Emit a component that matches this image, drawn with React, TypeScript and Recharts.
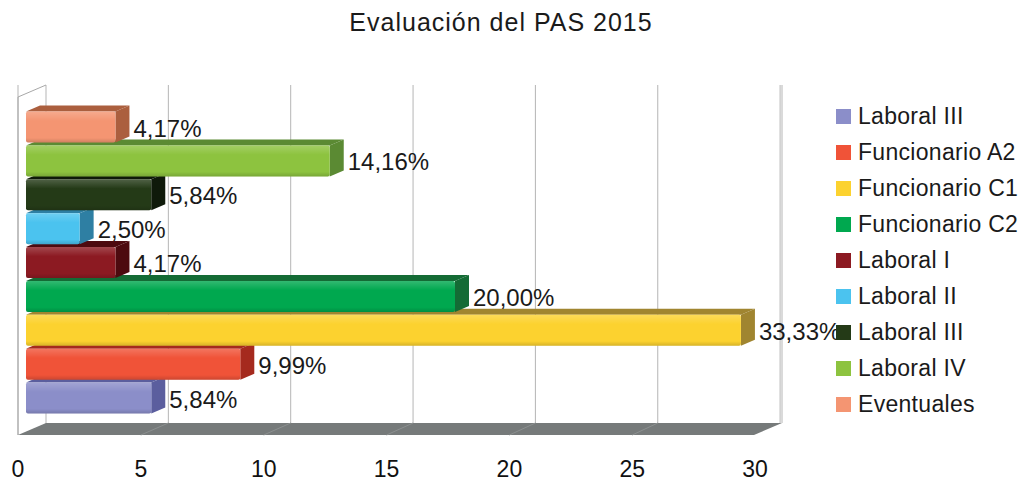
import React from 'react';
import {
  BarChart,
  Bar,
  XAxis,
  YAxis,
  CartesianGrid,
  Legend,
  LabelList,
  Customized
} from 'recharts';

const categories = [
  'Laboral III',
  'Funcionario A2',
  'Funcionario C1',
  'Funcionario C2',
  'Laboral I',
  'Laboral II',
  'Laboral III',
  'Laboral IV',
  'Eventuales'
];
const percentages = [5.84, 9.99, 33.33, 20.0, 4.17, 2.5, 5.84, 14.16, 4.17];
const frontColors = ['#8b8ec9', '#f05338', '#fcd22f', '#00a84f', '#8c1a22', '#4bc3ef', '#243a17', '#8dc33f', '#f49572'];
const sideColors = ['#5b5e9e', '#a52a1e', '#a08530', '#146b35', '#4d0a0f', '#2e7fa3', '#0f1a0a', '#5b8a33', '#ab5f3e'];
const xTicks = [0, 5, 10, 15, 20, 25, 30];

const FONT = '"Liberation Sans", Arial, sans-serif';
const WIDTH = 1029;
const HEIGHT = 482;
const AXIS_H = 47;
const MARGIN = { top: 85, right: 247, bottom: 0, left: 18 };
const PLOT_W = WIDTH - MARGIN.left - MARGIN.right;
const PLOT_BOTTOM = HEIGHT - AXIS_H;
const DEPTH_X = 28; // depth of the 3d box
const DEPTH_Y = 12;
const BAR_DX = 14; // depth of each bar
const BAR_DY = 6;

// three x scales fake the perspective: front labels, back wall grid, bars in between
const TICK_DOMAIN = [0, PLOT_W / 24.57];
const GRID_DOMAIN = [-DEPTH_X / 24.47, (PLOT_W - DEPTH_X) / 24.47];
const BAR_DOMAIN = [-8 / 21.45, (PLOT_W - 8) / 21.45];

const data = categories.map((name, i) => ({ key: `c${i}`, name, value: percentages[i] }));

const lin = (d: number[], v: number) => MARGIN.left + ((v - d[0]) / (d[1] - d[0])) * PLOT_W;

const fmt = (v: number) => v.toFixed(2).replace('.', ',') + '%';

const Frame = () => {
  const back = PLOT_BOTTOM - DEPTH_Y;
  const left = MARGIN.left;
  const right = MARGIN.left + PLOT_W;
  return (
    <g>
      <defs>
        <linearGradient id="barShade" x1="0" y1="0" x2="0" y2="1">
          <stop offset="0%" stopColor="#fff" stopOpacity={0.2} />
          <stop offset="30%" stopColor="#fff" stopOpacity={0} />
          <stop offset="85%" stopColor="#000" stopOpacity={0} />
          <stop offset="100%" stopColor="#000" stopOpacity={0.15} />
        </linearGradient>
      </defs>
      <text x={501} y={31} textAnchor="middle" fontSize={25} letterSpacing={1} fill="#1a1a1a" fontFamily={FONT}>
        Evaluación del PAS 2015
      </text>
      <polyline
        points={`${left},${PLOT_BOTTOM} ${left},${MARGIN.top + DEPTH_Y} ${left + DEPTH_X},${MARGIN.top}`}
        fill="none"
        stroke="#a8a8a8"
      />
      {/* hide the grid below the back edge of the floor */}
      <polygon
        points={`${right - 4},${back} ${right + 4},${back} ${right + 4},${PLOT_BOTTOM + 1} ${right - DEPTH_X},${PLOT_BOTTOM + 1}`}
        fill="#fff"
      />
      <polygon
        points={`${left},${PLOT_BOTTOM} ${left + DEPTH_X},${back} ${right},${back} ${right - DEPTH_X},${PLOT_BOTTOM}`}
        fill="#767a7a"
      />
      {xTicks.slice(1, -1).map((v) => (
        <line key={v} x1={lin(GRID_DOMAIN, v)} y1={back} x2={lin(TICK_DOMAIN, v)} y2={PLOT_BOTTOM} stroke="#8c9090" />
      ))}
    </g>
  );
};

const Bar3D = (props: any) => {
  const { x, y, width, height, index } = props;
  const r = x + width;
  const side = sideColors[index];
  return (
    <g>
      <polygon points={`${x},${y} ${x + BAR_DX},${y - BAR_DY} ${r + BAR_DX},${y - BAR_DY} ${r},${y}`} fill={side} />
      <polygon
        points={`${r},${y} ${r + BAR_DX},${y - BAR_DY} ${r + BAR_DX},${y + height - BAR_DY} ${r},${y + height}`}
        fill={side}
      />
      <rect x={x} y={y} width={width} height={height} rx={2} fill={frontColors[index]} />
      <rect x={x} y={y} width={width} height={height} rx={2} fill="url(#barShade)" />
    </g>
  );
};

const ValueLabel = (props: any) => {
  const vb = props.viewBox || props;
  const x = props.x ?? vb.x;
  const y = props.y ?? vb.y;
  const width = props.width ?? vb.width;
  const height = props.height ?? vb.height;
  return (
    <text
      x={x + width + BAR_DX + 4}
      y={y + height / 2 + 1}
      dominantBaseline="central"
      fontSize={24}
      fill="#1a1a1a"
      fontFamily={FONT}
    >
      {fmt(props.value)}
    </text>
  );
};

const LegendList = () => (
  <div style={{ fontFamily: FONT, fontSize: 23, color: '#1a1a1a', letterSpacing: 0.3 }}>
    {categories.map((c, i) => (
      <div key={i} style={{ display: 'flex', alignItems: 'center', height: 35.9, whiteSpace: 'nowrap' }}>
        <span style={{ width: 15, height: 15, background: frontColors[i], marginRight: 7, display: 'inline-block' }} />
        <span>{c}</span>
      </div>
    ))}
  </div>
);

export default function App() {
  return (
    <div style={{ width: WIDTH, height: HEIGHT, background: '#fff' }}>
      <style>{'body{margin:0}'}</style>
      <BarChart width={WIDTH} height={HEIGHT} data={data} layout="vertical" margin={MARGIN}>
        <XAxis
          xAxisId="tick"
          type="number"
          domain={TICK_DOMAIN}
          ticks={xTicks}
          interval={0}
          allowDataOverflow
          axisLine={false}
          tickLine={false}
          tickMargin={20}
          height={AXIS_H}
          tick={{ fontSize: 23, fill: '#111', fontFamily: FONT }}
        />
        <XAxis xAxisId="grid" type="number" domain={GRID_DOMAIN} ticks={xTicks} hide height={0} allowDataOverflow />
        <XAxis xAxisId="bars" type="number" domain={BAR_DOMAIN} hide height={0} allowDataOverflow />
        <YAxis type="category" dataKey="key" reversed hide padding={{ top: 25.6, bottom: 19.6 }} />
        <CartesianGrid xAxisId="grid" horizontal={false} stroke="#b5b5b5" />
        <Customized component={Frame} />
        <Bar dataKey="value" xAxisId="bars" barSize={31} shape={Bar3D} isAnimationActive={false}>
          <LabelList dataKey="value" content={ValueLabel} />
        </Bar>
        <Legend
          layout="vertical"
          align="center"
          verticalAlign="middle"
          content={LegendList}
          wrapperStyle={{ left: 836, top: 99, width: 190 }}
        />
      </BarChart>
    </div>
  );
}
